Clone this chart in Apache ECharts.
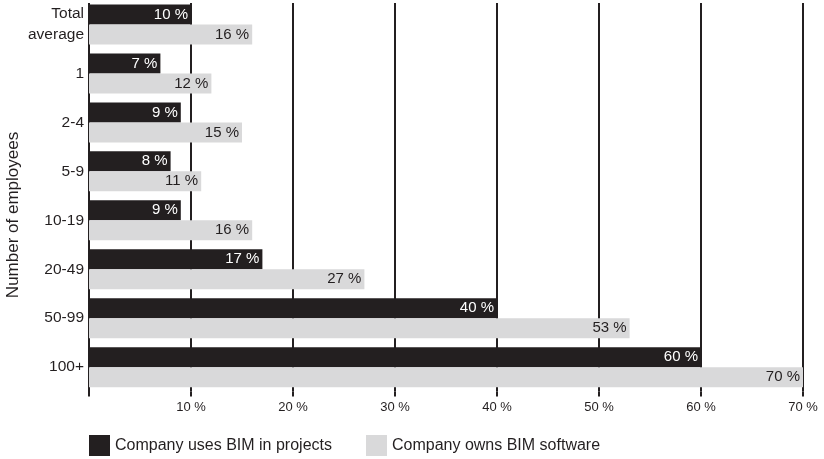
<!DOCTYPE html>
<html>
<head>
<meta charset="utf-8">
<script src="https://cdn.jsdelivr.net/npm/echarts@6/dist/echarts.min.js"></script>
<style>
  html, body { margin: 0; padding: 0; background: #fff; }
  #chart { width: 824px; height: 459px; }
</style>
</head>
<body>
<div id="chart"></div>
<script>
// Company size groups (number of employees), top to bottom
const categories = ['Total\naverage', '1', '2-4', '5-9', '10-19', '20-49', '50-99', '100+'];
// Share of companies, percent
const usesBim = [10, 7, 9, 8, 9, 17, 40, 60];
const ownsBim = [16, 12, 15, 11, 16, 27, 53, 70];
const seriesNames = ['Company uses BIM in projects', 'Company owns BIM software'];
const xTicks = [0, 10, 20, 30, 40, 50, 60, 70];

const INK = '#231f20';
const GREY = '#d9d9da';
const FONT = '"Liberation Sans", Arial, Helvetica, sans-serif';

const chart = echarts.init(document.getElementById('chart'), null, { renderer: 'canvas' });

const barLabel = (color) => ({
  show: true,
  position: 'insideRight',
  distance: 3,
  color: color,
  fontFamily: FONT,
  fontSize: 15,
  formatter: (p) => p.value + ' %'
});

chart.setOption({
  animation: false,
  textStyle: { fontFamily: FONT },
  grid: { left: 89, top: -1.6, width: 714, height: 393.2, containLabel: false },
  xAxis: {
    type: 'value',
    min: xTicks[0],
    max: xTicks[xTicks.length - 1],
    interval: 10,
    axisLine: { show: false },
    axisTick: { show: true, length: 5, lineStyle: { color: INK, width: 2 } },
    axisLabel: {
      color: INK, fontSize: 13, margin: 9, fontFamily: FONT,
      formatter: (v) => (v === 0 ? '' : v + ' %')
    },
    splitLine: { show: true, lineStyle: { color: INK, width: 2 } }
  },
  yAxis: {
    type: 'category',
    data: categories,
    inverse: true,
    axisLine: { show: true, lineStyle: { color: INK, width: 2 } },
    axisTick: { show: false },
    axisLabel: { color: INK, fontSize: 15.5, lineHeight: 21, margin: 5, fontFamily: FONT, align: 'right' }
  },
  legend: {
    left: 89,
    top: 435,
    padding: 0,
    itemWidth: 21,
    itemHeight: 21,
    itemGap: 34,
    icon: 'rect',
    textStyle: { color: INK, fontSize: 16, fontFamily: FONT },
    data: seriesNames
  },
  graphic: [
    {
      type: 'rect', left: 0, top: 0, z: 100,
      shape: { width: 824, height: 3 },
      style: { fill: '#fff' }
    },
    {
      type: 'text', x: 13, y: 215, rotation: Math.PI / 2,
      style: {
        text: 'Number of employees', fill: INK, fontSize: 17, fontFamily: FONT,
        textAlign: 'center', textVerticalAlign: 'middle'
      }
    }
  ],
  series: [
    {
      name: seriesNames[0], type: 'bar', data: usesBim,
      barWidth: 20, barGap: '0%',
      itemStyle: { color: INK },
      label: barLabel('#ffffff'),
      z: 3
    },
    {
      name: seriesNames[1], type: 'bar', data: ownsBim,
      barWidth: 20, barGap: '0%',
      itemStyle: { color: GREY },
      label: barLabel(INK),
      z: 3
    }
  ]
});
</script>
</body>
</html>
